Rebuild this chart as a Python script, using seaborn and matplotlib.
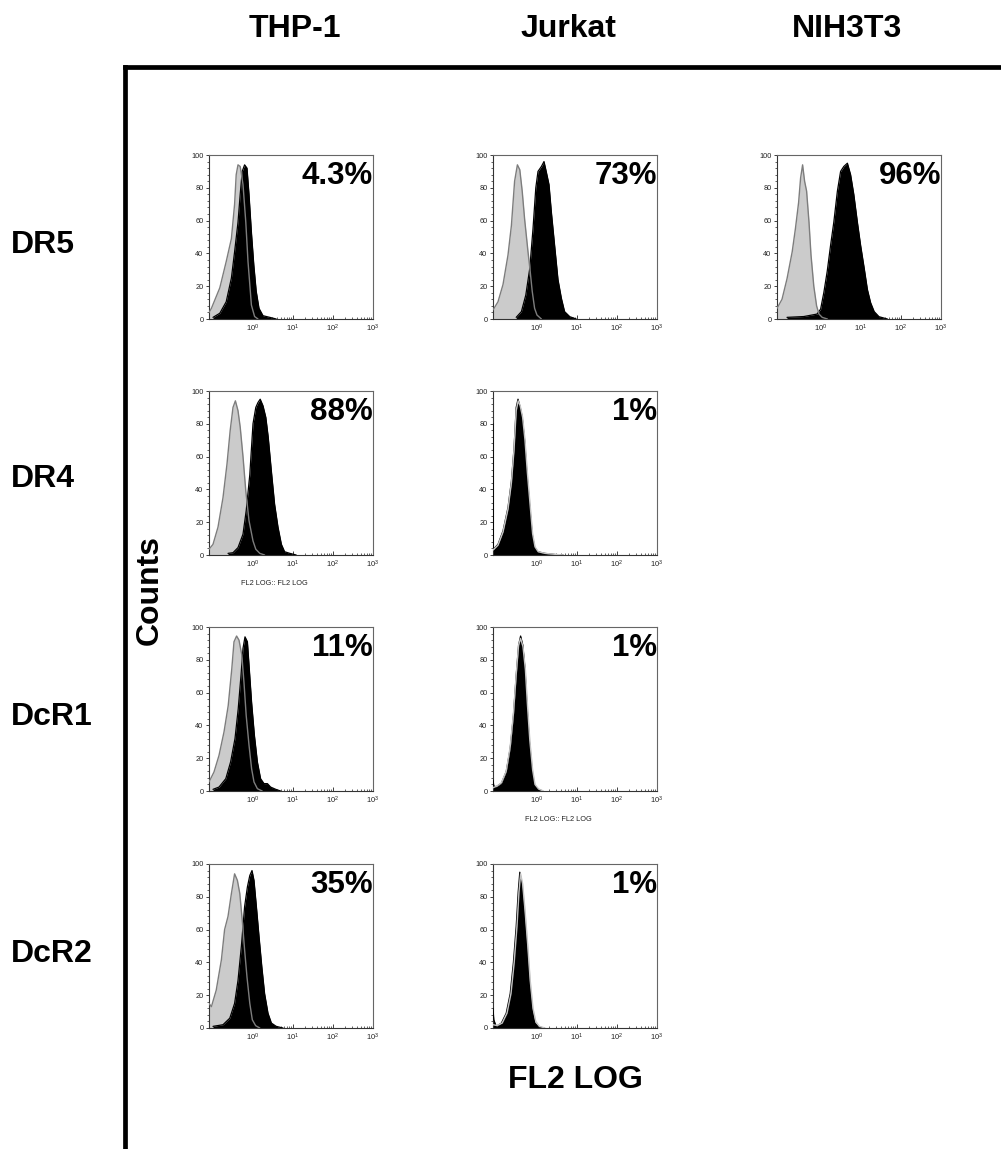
import numpy as np
import matplotlib
matplotlib.use("Agg")
import matplotlib.pyplot as plt
from matplotlib.lines import Line2D
from matplotlib.ticker import FixedLocator, LogLocator, MultipleLocator, NullFormatter
import seaborn as sns

# --- layout data ------------------------------------------------------------
cell_lines = ["THP-1", "Jurkat", "NIH3T3"]
receptors = ["DR5", "DR4", "DcR1", "DcR2"]
positive_pct = {
    ("DR5", "THP-1"): "4.3%", ("DR5", "Jurkat"): "73%", ("DR5", "NIH3T3"): "96%",
    ("DR4", "THP-1"): "88%", ("DR4", "Jurkat"): "1%",
    ("DcR1", "THP-1"): "11%", ("DcR1", "Jurkat"): "1%",
    ("DcR2", "THP-1"): "35%", ("DcR2", "Jurkat"): "1%",
}
count_ticks = [0, 20, 40, 60, 80, 100]
fl2_ticks = [1, 10, 100, 1000]

# --- histogram data (log10 FL2, counts) --------------------------------------
# isotype control (grey) and stained (black)
thp1_dr5_ctrl_log = [-1.1, -1.04, -0.83, -0.67, -0.54, -0.46, -0.42, -0.375, -0.32, -0.25, -0.18, -0.125, -0.08, -0.04, 0.04, 0.125]
thp1_dr5_ctrl_cnt = [4, 6.5, 19, 35, 49, 70, 88, 94, 93, 82, 59, 35, 21, 8.5, 1.5, 0]
thp1_dr5_stain_log = [-1.0, -0.83, -0.67, -0.54, -0.46, -0.375, -0.32, -0.27, -0.21, -0.15, -0.1, -0.04, 0.02, 0.08, 0.15, 0.25, 0.42, 0.58]
thp1_dr5_stain_cnt = [1, 3.5, 10.5, 25, 41, 59, 76, 90, 94, 92, 76, 53, 33, 17, 6.5, 2, 1, 0]

jurkat_dr5_ctrl_log = [-1.1, -0.975, -0.85, -0.725, -0.64, -0.56, -0.49, -0.43, -0.37, -0.31, -0.225, -0.17, -0.12, -0.06, 0.0, 0.11]
jurkat_dr5_ctrl_cnt = [5.5, 10.5, 21, 39, 57, 84, 94, 91, 78, 61, 41, 29, 17, 6.5, 2.4, 0]
jurkat_dr5_stain_log = [-0.52, -0.39, -0.28, -0.18, -0.1, -0.03, 0.025, 0.11, 0.175, 0.23, 0.3, 0.36, 0.44, 0.525, 0.61, 0.69, 0.82, 0.98]
jurkat_dr5_stain_cnt = [1, 4.5, 14.6, 31, 55, 80, 90, 93, 96, 90, 82, 65, 45, 24, 12.6, 4.5, 1.4, 0]

nih3t3_dr5_ctrl_log = [-1.1, -0.975, -0.85, -0.72, -0.64, -0.56, -0.51, -0.46, -0.41, -0.36, -0.3, -0.25, -0.18, -0.11, -0.05, 0.03, 0.16]
nih3t3_dr5_ctrl_cnt = [6.5, 12, 24.5, 41, 55, 71, 86, 94, 84, 78, 59, 39, 20, 8, 3, 1, 0]
nih3t3_dr5_stain_log = [-0.85, -0.43, -0.1, -0.01, 0.07, 0.155, 0.24, 0.32, 0.41, 0.49, 0.57, 0.66, 0.74, 0.82, 0.91, 0.99, 1.08, 1.16, 1.24, 1.33, 1.45, 1.66]
nih3t3_dr5_stain_cnt = [1, 1.5, 3, 6, 16, 29, 45, 59, 78, 90, 93, 95, 88, 76, 59, 45, 31, 18, 10, 4.5, 1.4, 0]

thp1_dr4_ctrl_log = [-1.1, -1.0, -0.875, -0.75, -0.65, -0.57, -0.5, -0.44, -0.375, -0.32, -0.25, -0.18, -0.1, 0.0, 0.07, 0.17, 0.29]
thp1_dr4_ctrl_cnt = [3.5, 6.5, 17, 35, 55.5, 76, 90, 94, 88, 78, 60, 39, 21, 8.6, 3.5, 1, 0]
thp1_dr4_stain_log = [-0.625, -0.5, -0.375, -0.25, -0.17, -0.08, 0.0, 0.07, 0.125, 0.18, 0.25, 0.32, 0.38, 0.46, 0.54, 0.625, 0.71, 0.79, 0.92, 1.08]
thp1_dr4_stain_cnt = [1, 1.4, 4.5, 12.7, 27, 49, 80, 90, 93, 95, 91, 84, 72, 51, 31, 17, 6.5, 2, 1, 0]

jurkat_dr4_ctrl_log = [-1.1, -0.975, -0.85, -0.725, -0.64, -0.575, -0.52, -0.47, -0.42, -0.36, -0.3, -0.24, -0.17, -0.11, -0.05, 0.03, 0.2, 0.5, 0.65]
jurkat_dr4_ctrl_cnt = [3, 6, 14, 28, 44, 64, 88, 94, 91, 84, 70, 50, 30, 13, 5, 2, 1, 0.3, 0]
jurkat_dr4_stain_log = [-1.1, -1.09, -0.975, -0.85, -0.725, -0.64, -0.575, -0.52, -0.475, -0.42, -0.37, -0.31, -0.25, -0.18, -0.12, -0.06, 0.025, 0.19, 0.48, 0.65]
jurkat_dr4_stain_cnt = [80, 3.5, 6.5, 14.7, 29, 45, 65, 90, 95, 90, 84, 70, 49, 29, 12.7, 4.5, 2, 1, 0.2, 0]

thp1_dcr1_ctrl_log = [-1.1, -0.975, -0.85, -0.725, -0.62, -0.53, -0.475, -0.41, -0.35, -0.28, -0.225, -0.17, -0.1, -0.035, 0.025, 0.11, 0.23]
thp1_dcr1_ctrl_cnt = [5.5, 11.6, 21.7, 36, 52, 74.6, 91, 94.5, 92, 83, 66, 46, 28, 13.6, 5.5, 1.4, 0]
thp1_dcr1_stain_log = [-1.0, -0.85, -0.68, -0.56, -0.45, -0.37, -0.3, -0.25, -0.2, -0.14, -0.1, -0.035, 0.035, 0.11, 0.19, 0.275, 0.36, 0.44, 0.57, 0.69]
thp1_dcr1_stain_cnt = [1, 2.4, 7.5, 17.7, 32, 50, 70.5, 87, 94, 91, 77, 54, 34, 17.7, 7.5, 4.5, 4.5, 2.4, 1, 0]

jurkat_dcr1_ctrl_log = [-1.1, -1.0, -0.89, -0.77, -0.67, -0.59, -0.52, -0.46, -0.41, -0.35, -0.29, -0.24, -0.18, -0.11, -0.05, 0.04, 0.16]
jurkat_dcr1_ctrl_cnt = [2, 3, 5, 12, 27, 47, 71, 89, 93, 88, 74, 53, 31, 13, 4, 1.2, 0]
jurkat_dcr1_stain_log = [-1.1, -1.08, -1.02, -0.89, -0.77, -0.67, -0.59, -0.52, -0.46, -0.41, -0.355, -0.3, -0.25, -0.19, -0.12, -0.065, 0.02, 0.14]
jurkat_dcr1_stain_cnt = [6.7, 3, 2.6, 4.7, 11.8, 26, 46, 70.6, 89, 94.5, 89, 74.6, 52, 30, 11.8, 3.6, 1.2, 0]

thp1_dcr2_ctrl_log = [-1.1, -1.04, -0.92, -0.79, -0.71, -0.625, -0.54, -0.46, -0.39, -0.33, -0.27, -0.21, -0.15, -0.08, -0.017, 0.067, 0.17]
thp1_dcr2_ctrl_cnt = [15, 13, 23, 41.6, 60, 68, 82, 94, 90, 82, 66, 47.7, 31, 15, 5, 1.4, 0]
thp1_dcr2_stain_log = [-1.0, -0.75, -0.58, -0.46, -0.375, -0.29, -0.21, -0.14, -0.08, -0.025, 0.025, 0.085, 0.15, 0.22, 0.29, 0.375, 0.46, 0.58, 0.75]
thp1_dcr2_stain_cnt = [1, 2, 6, 15, 29, 50, 74, 86, 93, 96, 90, 74, 56, 37.5, 21, 9, 3, 1, 0]

jurkat_dcr2_ctrl_log = [-1.1, -1.0, -0.87, -0.75, -0.65, -0.57, -0.5, -0.45, -0.41, -0.36, -0.3, -0.23, -0.17, -0.1, -0.03, 0.06, 0.2]
jurkat_dcr2_ctrl_cnt = [2, 1.5, 3, 9, 21, 40, 62, 83, 94, 88, 72, 50, 29, 12, 4, 1, 0]
jurkat_dcr2_stain_log = [-1.1, -1.08, -1.02, -0.89, -0.77, -0.67, -0.59, -0.52, -0.47, -0.43, -0.38, -0.32, -0.25, -0.19, -0.12, -0.055, 0.04, 0.18]
jurkat_dcr2_stain_cnt = [12, 5, 1, 3, 9, 21, 40, 62, 83, 95, 87, 70, 48, 27.5, 11, 3, 0.6, 0]

histograms = {
    ("DR5", "THP-1"): (thp1_dr5_ctrl_log, thp1_dr5_ctrl_cnt, thp1_dr5_stain_log, thp1_dr5_stain_cnt),
    ("DR5", "Jurkat"): (jurkat_dr5_ctrl_log, jurkat_dr5_ctrl_cnt, jurkat_dr5_stain_log, jurkat_dr5_stain_cnt),
    ("DR5", "NIH3T3"): (nih3t3_dr5_ctrl_log, nih3t3_dr5_ctrl_cnt, nih3t3_dr5_stain_log, nih3t3_dr5_stain_cnt),
    ("DR4", "THP-1"): (thp1_dr4_ctrl_log, thp1_dr4_ctrl_cnt, thp1_dr4_stain_log, thp1_dr4_stain_cnt),
    ("DR4", "Jurkat"): (jurkat_dr4_ctrl_log, jurkat_dr4_ctrl_cnt, jurkat_dr4_stain_log, jurkat_dr4_stain_cnt),
    ("DcR1", "THP-1"): (thp1_dcr1_ctrl_log, thp1_dcr1_ctrl_cnt, thp1_dcr1_stain_log, thp1_dcr1_stain_cnt),
    ("DcR1", "Jurkat"): (jurkat_dcr1_ctrl_log, jurkat_dcr1_ctrl_cnt, jurkat_dcr1_stain_log, jurkat_dcr1_stain_cnt),
    ("DcR2", "THP-1"): (thp1_dcr2_ctrl_log, thp1_dcr2_ctrl_cnt, thp1_dcr2_stain_log, thp1_dcr2_stain_cnt),
    ("DcR2", "Jurkat"): (jurkat_dcr2_ctrl_log, jurkat_dcr2_ctrl_cnt, jurkat_dcr2_stain_log, jurkat_dcr2_stain_cnt),
}
# panels that carry the small instrument axis label
fl2_label_panels = [("DR4", "THP-1"), ("DcR1", "Jurkat")]

# --- style --------------------------------------------------------------------
sns.set_theme(style="white")
plt.rcParams["font.family"] = ["Liberation Sans", "DejaVu Sans"]
plt.rcParams["mathtext.default"] = "regular"
plt.rcParams["text.color"] = "black"

W, H = 1001, 1149
fig = plt.figure(figsize=(W / 100, H / 100), dpi=100)

col_left = [209, 493, 777]
row_top = [155, 391, 627, 864]
side = 164

for r, rec in enumerate(receptors):
    for c, cell in enumerate(cell_lines):
        if (rec, cell) not in histograms:
            continue
        ax = fig.add_axes([col_left[c] / W, 1 - (row_top[r] + side) / H, side / W, side / H])
        ctrl_x, ctrl_y, st_x, st_y = histograms[(rec, cell)]
        ctrl_x = np.power(10.0, ctrl_x)
        st_x = np.power(10.0, st_x)
        ax.set_xscale("log")
        ax.fill_between(ctrl_x, ctrl_y, 0, color="#cbcbcb", lw=0, zorder=1)
        ax.fill_between(st_x, st_y, 0, color="black", lw=0, zorder=2)
        sns.lineplot(x=st_x, y=st_y, ax=ax, color="black", lw=0.9,
                     estimator=None, sort=False, zorder=3)
        outline = "#c4c4c4" if cell == "Jurkat" and rec != "DR5" else "#7d7d7d"
        sns.lineplot(x=ctrl_x, y=ctrl_y, ax=ax, color=outline, lw=1.0,
                     estimator=None, sort=False, zorder=4)

        ax.set_xlim(10 ** -1.1, 1000)
        ax.set_ylim(0, 100)
        ax.xaxis.set_major_locator(FixedLocator(fl2_ticks))
        ax.xaxis.set_minor_locator(LogLocator(base=10, subs=np.arange(2, 10)))
        ax.xaxis.set_minor_formatter(NullFormatter())
        ax.yaxis.set_major_locator(FixedLocator(count_ticks))
        ax.yaxis.set_minor_locator(MultipleLocator(4))
        ax.tick_params(axis="x", which="major", direction="in", length=3, width=0.6,
                       labelsize=5.5, pad=3, colors="#222222", bottom=True)
        ax.tick_params(axis="x", which="minor", direction="in", length=1.6, width=0.5,
                       bottom=True, colors="#222222")
        ax.tick_params(axis="y", which="major", direction="out", length=2.5, width=0.6,
                       labelsize=5.3, pad=1.5, colors="#222222", left=True)
        ax.tick_params(axis="y", which="minor", direction="out", length=1.3, width=0.5,
                       left=True, colors="#222222")
        for side_name, sp in ax.spines.items():
            sp.set_visible(True)
            sp.set_linewidth(0.8)
            sp.set_color("#333333" if side_name in ("left", "bottom") else "#666666")
        ax.set_xlabel("")
        ax.set_ylabel("")
        ax.set_facecolor("white")

        ax.text(1.0, 1 - 29 / side, positive_pct[(rec, cell)], transform=ax.transAxes,
                ha="right", va="baseline", fontsize=22.5, fontweight="bold",
                color="black", zorder=6)
        if (rec, cell) in fl2_label_panels:
            ax.text(0.40, -0.15, "FL2 LOG:: FL2 LOG", transform=ax.transAxes,
                    ha="center", va="top", fontsize=5.3, color="#222222")

# --- outer frame and labels -----------------------------------------------------
frame_x = 124.5 / W
frame_y = 1 - 67 / H
fig.add_artist(Line2D([frame_x, 1.0], [frame_y, frame_y], color="black", lw=3.4,
                      solid_capstyle="projecting"))
fig.add_artist(Line2D([frame_x, frame_x], [0.0, frame_y], color="black", lw=3.4,
                      solid_capstyle="projecting"))

for name, xc in zip(cell_lines, [295, 568, 847]):
    fig.text(xc / W, 1 - 37 / H, name, ha="center", va="baseline",
             fontsize=23, fontweight="bold", color="black")

for rec, yb in zip(receptors, [253, 487, 725, 962]):
    fig.text(11 / W, 1 - yb / H, rec, ha="left", va="baseline",
             fontsize=23, fontweight="bold", color="black")

fig.text(150 / W, 1 - 590 / H, "Counts", rotation=90, ha="center", va="center",
         fontsize=23, fontweight="bold", color="black")
fig.text(575 / W, 1 - 1080 / H, "FL2 LOG", ha="center", va="center",
         fontsize=23, fontweight="bold", color="black")

fig.savefig("out.png", dpi=100, facecolor="white")
